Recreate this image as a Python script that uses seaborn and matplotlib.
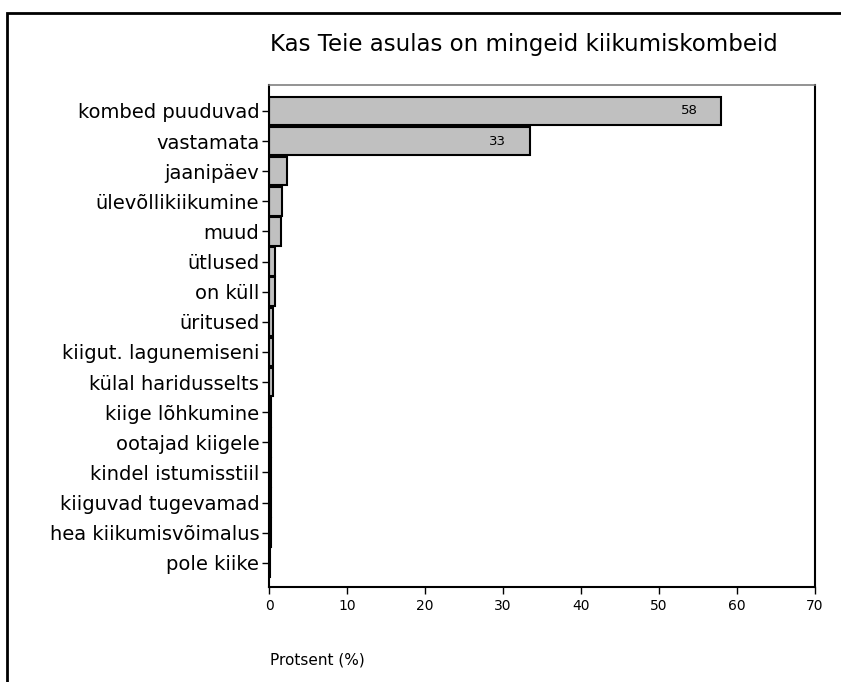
import pandas as pd
import matplotlib
matplotlib.use("Agg")
import matplotlib.pyplot as plt
import seaborn as sns
from matplotlib.patches import Rectangle

categories = ["kombed puuduvad", "vastamata", "jaanipäev", "ülevõllikiikumine", "muud",
              "ütlused", "on küll", "üritused", "kiigut. lagunemiseni", "külal haridusselts",
              "kiige lõhkumine", "ootajad kiigele", "kindel istumisstiil", "kiiguvad tugevamad",
              "hea kiikumisvõimalus", "pole kiike"]
percent = [58.0, 33.4, 2.3, 1.7, 1.5, 0.8, 0.8, 0.5, 0.5, 0.5, 0.2, 0.2, 0.2, 0.2, 0.2, 0.1]
shown_labels = {"kombed puuduvad": "58", "vastamata": "33"}

df = pd.DataFrame({"kategooria": categories, "protsent": percent})

sns.set_style("white")
plt.rcParams["font.family"] = ["DejaVu Sans"]
plt.rcParams["text.color"] = "black"
plt.rcParams["xtick.color"] = "black"
plt.rcParams["ytick.color"] = "black"

fig = plt.figure(figsize=(8.41, 6.82), dpi=100)
ax = fig.add_axes([0.3199, 0.1393, 0.6492, 0.7361])

sns.barplot(data=df, x="protsent", y="kategooria", orient="h", color="#c0c0c0",
            edgecolor="black", linewidth=1.5, width=0.95, saturation=1, ax=ax)

# value labels inside the two biggest bars
for i, (cat, val) in enumerate(zip(categories, percent)):
    if cat in shown_labels:
        ax.text(val - 4.1, i, shown_labels[cat], ha="center", va="center", fontsize=9.5)

ax.set_xlim(0, 70)
ax.set_xticks(range(0, 71, 10))
ax.set_ylim(15.8, -0.86)
ax.set_ylabel("")
ax.set_xlabel("")
ax.tick_params(axis="x", labelsize=10, length=5, width=1, direction="out", bottom=True)
ax.tick_params(axis="y", labelsize=14, length=5, width=1, direction="out", left=True, pad=2)

for side in ["left", "bottom", "right"]:
    ax.spines[side].set_color("black")
    ax.spines[side].set_linewidth(1.5)
ax.spines["top"].set_color("#808080")
ax.spines["top"].set_linewidth(1.2)

fig.text(524 / 841, 1 - 45 / 682, "Kas Teie asulas on mingeid kiikumiskombeid",
         ha="center", va="center", fontsize=16.5)
fig.text(270 / 841, 1 - 660 / 682, "Protsent (%)", ha="left", va="center", fontsize=11)

# outer frame
fig.patches.append(Rectangle((7 / 841, -0.1), 1.2, 0.1 + (682 - 13) / 682,
                             transform=fig.transFigure, fill=False,
                             edgecolor="black", linewidth=2, figure=fig))

fig.savefig("out.png", dpi=100)
